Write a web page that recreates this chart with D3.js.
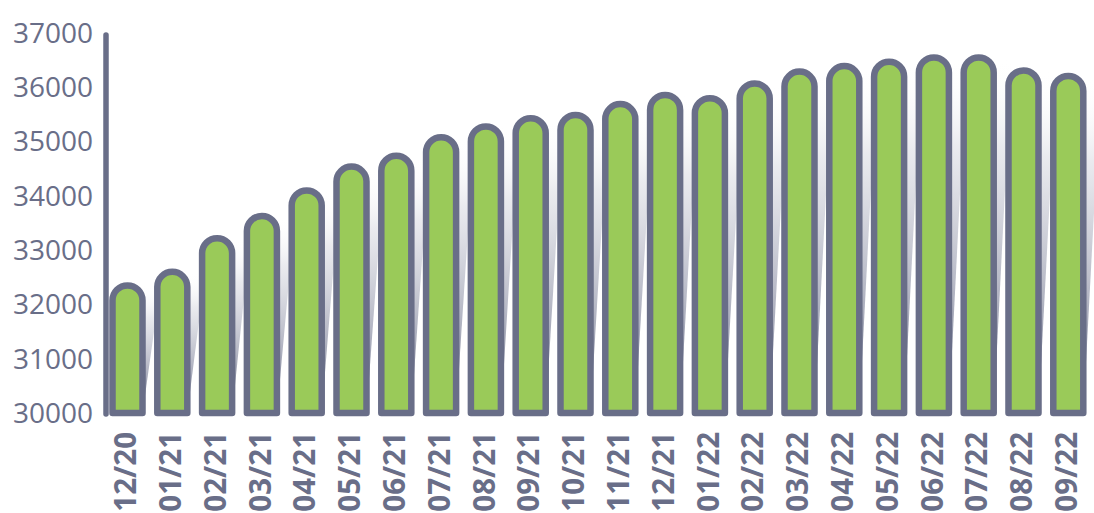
<!DOCTYPE html>
<html>
<head>
<meta charset="utf-8">
<script src="https://cdn.jsdelivr.net/npm/d3@7"></script>
<style>
  html, body { margin: 0; padding: 0; background: #ffffff; }
  svg { display: block; }
</style>
</head>
<body>
<svg id="chart" width="1094" height="513"></svg>
<script>
const categories = ["12/20","01/21","02/21","03/21","04/21","05/21","06/21","07/21","08/21","09/21","10/21","11/21","12/21","01/22","02/22","03/22","04/22","05/22","06/22","07/22","08/22","09/22"];
const values = [32350,32600,33220,33630,34100,34540,34740,35080,35280,35430,35490,35690,35860,35800,36070,36290,36390,36470,36550,36550,36310,36210];
const yTicks = [30000,31000,32000,33000,34000,35000,36000,37000];

const ink = "#696e88";
const green = "#9aca59";

const svg = d3.select("#chart");
const x = d3.scaleBand().domain(categories).range([112.5, 1083.3]).paddingInner(0.33).paddingOuter(0);
const y = d3.scaleLinear().domain([30000, 37000]).range([413, 33]);

const defs = svg.append("defs");
const grad = defs.append("linearGradient").attr("id", "shadeGrad").attr("x1", 0).attr("y1", 0).attr("x2", 0).attr("y2", 1);
grad.append("stop").attr("offset", "0%").attr("stop-color", "#ffffff").attr("stop-opacity", 0);
grad.append("stop").attr("offset", "25%").attr("stop-color", "#d9dae2").attr("stop-opacity", 0.55);
grad.append("stop").attr("offset", "100%").attr("stop-color", ink).attr("stop-opacity", 0.95);

const data = categories.map((c, i) => ({ c, v: values[i] }));
const bw = x.bandwidth();
const shift = 18;

// shadows
svg.append("g").selectAll("path").data(data).join("path")
  .attr("d", d => {
    const x0 = x(d.c), x1 = x0 + bw, yb = y(30000), yt = y(d.v);
    return `M${x0},${yb} L${x1},${yb} L${x1 + shift},${yt} L${x0 + shift},${yt} Z`;
  })
  .attr("fill", "url(#shadeGrad)");

// y axis line
svg.append("line")
  .attr("x1", 106).attr("x2", 106)
  .attr("y1", y(37000) + 2).attr("y2", y(30000) + 1)
  .attr("stroke", ink).attr("stroke-width", 5.5).attr("stroke-linecap", "round");

// bars
svg.append("g").selectAll("path").data(data).join("path")
  .attr("d", d => {
    const x0 = x(d.c), x1 = x0 + bw, yb = y(30000), yt = y(d.v), r = bw / 2;
    return `M${x0},${yb} L${x0},${yt + r} A${r},${r} 0 0 1 ${x1},${yt + r} L${x1},${yb} Z`;
  })
  .attr("fill", green)
  .attr("stroke", ink)
  .attr("stroke-width", 6.5)
  .attr("stroke-linejoin", "round");

// y tick labels
svg.append("g").selectAll("text").data(yTicks).join("text")
  .attr("x", 93)
  .attr("y", d => y(d))
  .attr("dy", "0.35em")
  .attr("text-anchor", "end")
  .attr("font-family", "'Open Sans', sans-serif")
  .attr("font-size", 28)
  .attr("fill", ink)
  .text(d => d);

// x labels
svg.append("g").selectAll("text").data(categories).join("text")
  .attr("transform", d => `translate(${x(d) + bw / 2 - 2},432) rotate(-90)`)
  .attr("dy", "0.36em")
  .attr("text-anchor", "end")
  .attr("font-family", "'Open Sans', sans-serif")
  .attr("font-weight", "bold")
  .attr("font-size", 29.5)
  .attr("fill", ink)
  .text(d => d);
</script>
</body>
</html>
